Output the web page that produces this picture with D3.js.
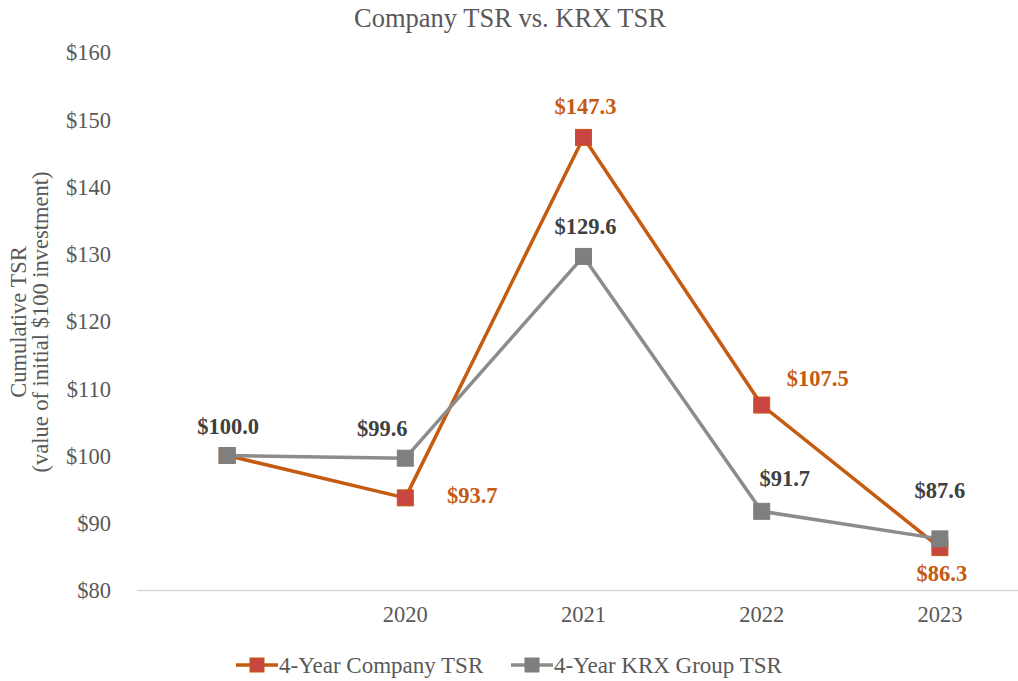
<!DOCTYPE html>
<html><head><meta charset="utf-8">
<script src="https://cdn.jsdelivr.net/npm/d3@7"></script>
<style>body{margin:0;background:#fff;} svg{display:block;} text{font-family:"Liberation Serif","DejaVu Serif",serif;}</style>
</head><body>
<svg id="c" width="1018" height="681"></svg>
<script>
const categories = ["", "2020", "2021", "2022", "2023"];
const companyTSR = [100.0, 93.7, 147.3, 107.5, 86.3];
const krxTSR = [100.0, 99.6, 129.6, 91.7, 87.6];
const yTicks = [80, 90, 100, 110, 120, 130, 140, 150, 160];
const seriesNames = ["4-Year Company TSR", "4-Year KRX Group TSR"];
// label placement per point: [dx, dy]; null = no label
const companyLabelPos = [null, [67, -3], [2, -31], [56, -27], [2, 25]];
const krxLabelPos = [[1, -29], [-23, -30], [2, -30], [23, -33], [0, -49]];

const svg = d3.select("#c");
const x = d3.scaleBand().domain(categories.map((d,i)=>i)).range([138, 1029]).paddingInner(0).paddingOuter(0);
const cx = i => x(i) + x.bandwidth()/2;
const y = d3.scaleLinear().domain([80, 160]).range([590, 52]);

// title
svg.append("text").attr("x", 510).attr("y", 27).attr("text-anchor", "middle")
  .attr("font-size", 26.5).attr("fill", "#595959").text("Company TSR vs. KRX TSR");

// y axis
const yAxis = d3.axisLeft(y).tickValues(yTicks).tickFormat(d => "$" + d).tickSize(0).tickPadding(0);
const gy = svg.append("g").attr("transform", "translate(111,0)").call(yAxis);
gy.select(".domain").remove();
gy.attr("font-family", null).attr("font-size", null);
gy.selectAll("text").attr("font-size", 22.5).attr("fill", "#595959").attr("dy", "0.35em");

// x axis
const xAxis = d3.axisBottom(x).tickFormat(i => categories[i]).tickSize(0).tickPadding(16);
const gx = svg.append("g").attr("transform", "translate(0,590)").call(xAxis);
gx.select(".domain").remove();
gx.attr("font-family", null).attr("font-size", null);
gx.selectAll("text").attr("font-size", 22.5).attr("fill", "#595959");
svg.append("line").attr("x1", 137).attr("x2", 1018).attr("y1", 590.5).attr("y2", 590.5)
  .attr("stroke", "#d9d9d9").attr("stroke-width", 1.3);

// y axis title
const yt = svg.append("text").attr("transform", "translate(0,322) rotate(-90)")
  .attr("font-size", 22.5).attr("fill", "#595959").attr("text-anchor", "middle");
yt.append("tspan").attr("x", 0).attr("y", 26).text("Cumulative TSR");
yt.append("tspan").attr("x", 0).attr("y", 48).text("(value of initial $100 investment)");

const line = d3.line().x((d,i)=>cx(i)).y(d=>y(d));

function drawSeries(data, lineColor, markerFill, markerStroke){
  svg.append("path").datum(data).attr("d", line).attr("fill", "none")
    .attr("stroke", lineColor).attr("stroke-width", 3.5).attr("stroke-linejoin", "round");
  svg.append("g").selectAll("rect").data(data).join("rect")
    .attr("x", (d,i)=>cx(i)-8).attr("y", d=>y(d)-8).attr("width", 16).attr("height", 16)
    .attr("fill", markerFill).attr("stroke", markerStroke).attr("stroke-width", 1);
}
drawSeries(companyTSR, "#c55a11", "#c9453f", "#c55a11");
drawSeries(krxTSR, "#8c8c8c", "#7f7f7f", "#7f7f7f");

function drawLabels(data, pos, color){
  svg.append("g").selectAll("text").data(data.map((d,i)=>({d,i,p:pos[i]})).filter(o=>o.p)).join("text")
    .attr("x", o=>cx(o.i)+o.p[0]).attr("y", o=>y(o.d)+o.p[1]).attr("dy", "0.35em")
    .attr("text-anchor", "middle").attr("font-size", 22.5).attr("font-weight", "bold")
    .attr("fill", color).text(o=>"$" + o.d.toFixed(1));
}
drawLabels(companyTSR, companyLabelPos, "#c55a11");
drawLabels(krxTSR, krxLabelPos, "#404040");

// legend
const legend = [
  {name: seriesNames[0], lc: "#c55a11", mf: "#c9453f", ms: "#c55a11", x: 236},
  {name: seriesNames[1], lc: "#8c8c8c", mf: "#7f7f7f", ms: "#7f7f7f", x: 511}
];
const lg = svg.append("g").selectAll("g").data(legend).join("g").attr("transform", d=>`translate(${d.x},665)`);
lg.append("line").attr("x1", 0).attr("x2", 42).attr("stroke", d=>d.lc).attr("stroke-width", 3.5);
lg.append("rect").attr("x", 14).attr("y", -7).attr("width", 14).attr("height", 14)
  .attr("fill", d=>d.mf).attr("stroke", d=>d.ms);
lg.append("text").attr("x", 43).attr("dy", "0.35em").attr("font-size", 23)
  .attr("fill", "#595959").text(d=>d.name);
</script>
</body></html>
